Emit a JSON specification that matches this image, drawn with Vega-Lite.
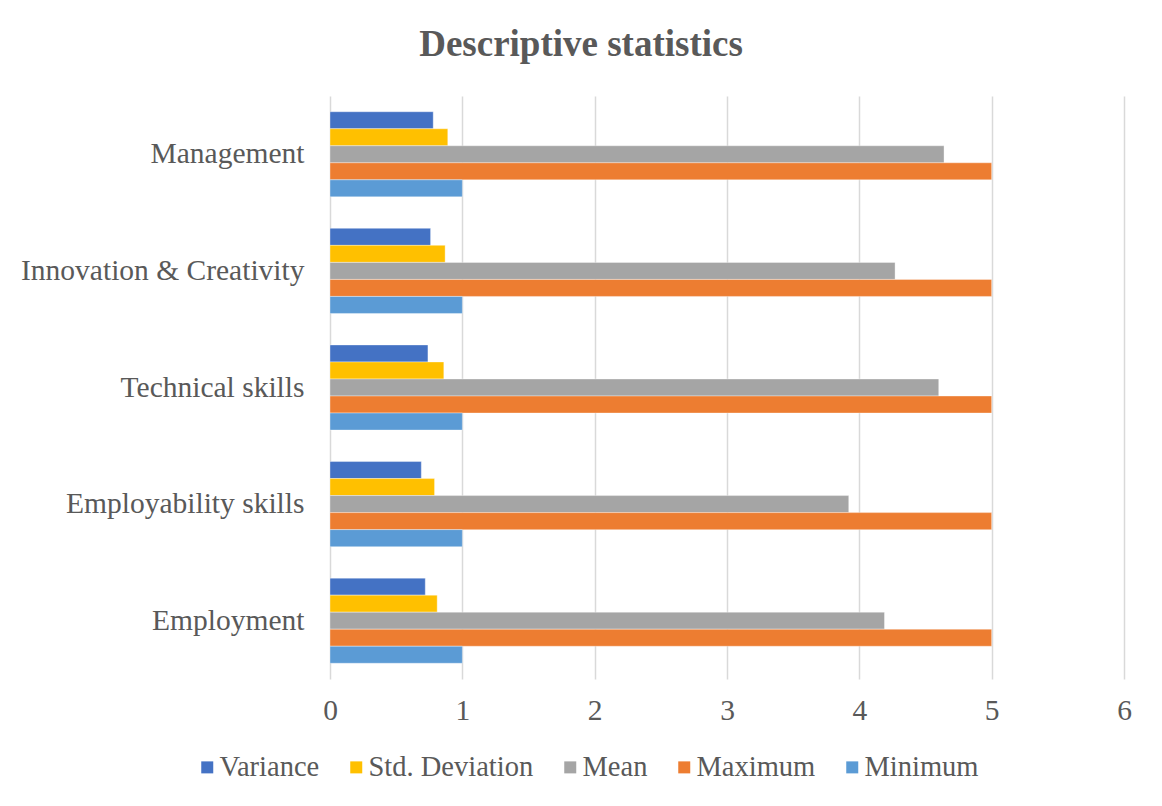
{
  "$schema": "https://vega.github.io/schema/vega-lite/v6.json",
  "autosize": "none",
  "width": 794,
  "height": 583,
  "padding": {"left": 330, "top": 96, "right": 38, "bottom": 127},
  "background": "white",
  "title": {
    "text": "Descriptive statistics",
    "font": "Liberation Serif",
    "fontSize": 37,
    "fontWeight": "bold",
    "color": "#595959",
    "anchor": "middle",
    "frame": "group",
    "dx": -146,
    "offset": 32
  },
  "data": {
    "values": [
      {"category": "Management", "stat": "Variance", "value": 0.78},
      {"category": "Management", "stat": "Std. Deviation", "value": 0.89},
      {"category": "Management", "stat": "Mean", "value": 4.64},
      {"category": "Management", "stat": "Maximum", "value": 5},
      {"category": "Management", "stat": "Minimum", "value": 1},
      {"category": "Innovation & Creativity", "stat": "Variance", "value": 0.76},
      {"category": "Innovation & Creativity", "stat": "Std. Deviation", "value": 0.87},
      {"category": "Innovation & Creativity", "stat": "Mean", "value": 4.27},
      {"category": "Innovation & Creativity", "stat": "Maximum", "value": 5},
      {"category": "Innovation & Creativity", "stat": "Minimum", "value": 1},
      {"category": "Technical skills", "stat": "Variance", "value": 0.74},
      {"category": "Technical skills", "stat": "Std. Deviation", "value": 0.86},
      {"category": "Technical skills", "stat": "Mean", "value": 4.6},
      {"category": "Technical skills", "stat": "Maximum", "value": 5},
      {"category": "Technical skills", "stat": "Minimum", "value": 1},
      {"category": "Employability skills", "stat": "Variance", "value": 0.69},
      {"category": "Employability skills", "stat": "Std. Deviation", "value": 0.79},
      {"category": "Employability skills", "stat": "Mean", "value": 3.92},
      {"category": "Employability skills", "stat": "Maximum", "value": 5},
      {"category": "Employability skills", "stat": "Minimum", "value": 1},
      {"category": "Employment", "stat": "Variance", "value": 0.72},
      {"category": "Employment", "stat": "Std. Deviation", "value": 0.81},
      {"category": "Employment", "stat": "Mean", "value": 4.19},
      {"category": "Employment", "stat": "Maximum", "value": 5},
      {"category": "Employment", "stat": "Minimum", "value": 1}
    ]
  },
  "mark": {"type": "bar", "stroke": "white", "strokeWidth": 0.6, "strokeOpacity": 0.6},
  "encoding": {
    "y": {
      "field": "category",
      "type": "nominal",
      "sort": ["Management", "Innovation & Creativity", "Technical skills", "Employability skills", "Employment"],
      "scale": {"paddingInner": 0.27, "paddingOuter": 0.135},
      "axis": {
        "title": null,
        "domain": false,
        "ticks": false,
        "grid": false,
        "labelFont": "Liberation Serif",
        "labelFontSize": 29.5,
        "labelColor": "#595959",
        "labelPadding": 26,
        "labelLimit": 400
      }
    },
    "yOffset": {
      "field": "stat",
      "type": "nominal",
      "sort": ["Variance", "Std. Deviation", "Mean", "Maximum", "Minimum"],
      "scale": {"paddingInner": 0, "paddingOuter": 0}
    },
    "x": {
      "field": "value",
      "type": "quantitative",
      "scale": {"domain": [0, 6], "nice": false},
      "axis": {
        "title": null,
        "values": [0, 1, 2, 3, 4, 5, 6],
        "domain": false,
        "ticks": false,
        "grid": true,
        "gridColor": "#D9D9D9",
        "gridWidth": 1.5,
        "labelFlush": false,
        "labelFont": "Liberation Serif",
        "labelFontSize": 29.5,
        "labelColor": "#595959",
        "labelPadding": 17,
        "format": "d"
      }
    },
    "color": {
      "field": "stat",
      "type": "nominal",
      "sort": ["Variance", "Std. Deviation", "Mean", "Maximum", "Minimum"],
      "scale": {
        "domain": ["Variance", "Std. Deviation", "Mean", "Maximum", "Minimum"],
        "range": ["#4472C4", "#FFC000", "#A5A5A5", "#ED7D31", "#5B9BD5"]
      },
      "legend": {
        "title": null,
        "orient": "none",
        "direction": "horizontal",
        "legendX": -137,
        "legendY": 657,
        "symbolType": "square",
        "symbolSize": 144,
        "symbolStrokeWidth": 0,
        "labelFont": "Liberation Serif",
        "labelFontSize": 28.5,
        "labelColor": "#595959",
        "labelOffset": -2,
        "columnPadding": 22,
        "labelLimit": 300
      }
    }
  },
  "config": {
    "view": {"stroke": null}
  }
}
